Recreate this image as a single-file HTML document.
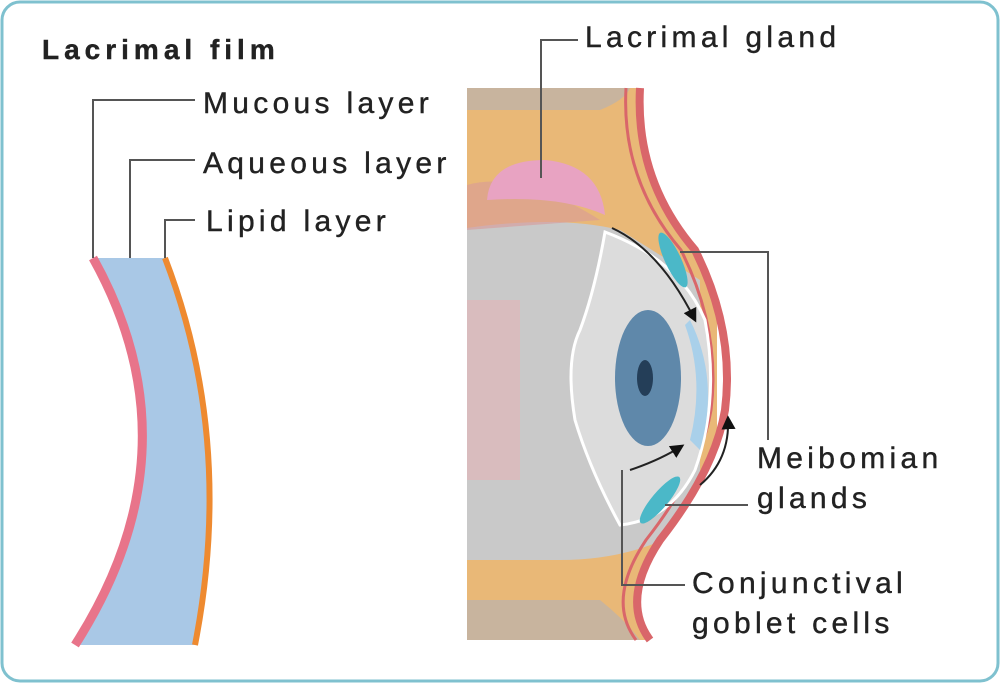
<!DOCTYPE html>
<html><head><style>
html,body{margin:0;padding:0;background:#fff;}
svg{display:block}
text{font-family:"Liberation Sans",sans-serif;font-size:30px;fill:#222;letter-spacing:4.3px;stroke:#222;stroke-width:0.4}
</style></head><body>
<svg width="1000" height="683" viewBox="0 0 1000 683">
<defs><marker id="a" viewBox="0 0 10 10" refX="8" refY="5" markerWidth="7" markerHeight="7" orient="auto"><path d="M0,0L10,5L0,10Z" fill="#111"/></marker></defs>
<rect x="2" y="2" width="996" height="679" rx="18" fill="#fff" stroke="#7fc1cf" stroke-width="3"/>
<path d="M93,258 L165,258 Q235,440 195,645 L75,645 Q200,450 93,258 Z" fill="#a9c8e6"/>
<path d="M93,258 Q200,450 75,645" fill="none" stroke="#e8748a" stroke-width="9"/>
<path d="M165,258 Q235,440 195,645" fill="none" stroke="#ee8a30" stroke-width="6"/>
<g fill="none" stroke="#555" stroke-width="2">
<path d="M93,258 V100 H195"/>
<path d="M130,258 V160 H195"/>
<path d="M165,258 V220 H195"/>
</g>
<text x="42" y="59" font-weight="bold" style="font-size:28px;letter-spacing:5px">Lacrimal film</text>
<text x="203" y="113">Mucous layer</text>
<text x="203" y="173">Aqueous layer</text>
<text x="206" y="231">Lipid layer</text>
<rect x="467" y="88" width="250" height="552" fill="#e9b877"/>
<path d="M467,110 H600 Q625,100 630,88 H467Z" fill="#c8b49e"/>
<path d="M467,640 V600 H600 Q625,620 640,640Z" fill="#c8b49e"/>
<path d="M467,228 Q560,215 620,230 L700,280 L700,520 Q640,560 560,560 L467,560Z" fill="#c9c9c9"/>
<path d="M467,300 H520 V480 H467Z" fill="#e4b4b8" opacity="0.6"/>
<path d="M467,185 Q520,170 600,220 L467,230Z" fill="#d99a9a" opacity="0.6"/>
<path d="M487,200 Q490,160 545,160 Q600,165 605,215 Q560,195 487,200Z" fill="#e8a3c2"/>
<path d="M640,88 Q635,180 695,250 Q735,330 725,410 Q715,470 660,540 Q620,600 650,640 L717,640 L717,88Z" fill="#fff"/>
<path d="M640,88 Q635,180 695,250 Q735,330 725,410 Q715,470 660,540 Q620,600 650,640" fill="none" stroke="#d9666a" stroke-width="8"/>
<path d="M626,88 Q621,180 681,250 Q721,330 711,410 Q701,470 646,540 Q606,600 636,640" fill="none" stroke="#d9666a" stroke-width="3"/>
<path d="M605,232 Q680,260 705,320 Q720,400 695,470 Q670,520 620,525 Q590,470 575,420 Q565,360 580,330 Q595,290 605,232Z" fill="#dcdcdc" stroke="#fff" stroke-width="3"/>
<path d="M690,320 Q720,380 700,450 L690,440 Q705,380 685,325Z" fill="#a9d0ea"/>
<ellipse cx="648" cy="378" rx="33" ry="68" fill="#5f88aa"/>
<ellipse cx="645" cy="378" rx="8" ry="18" fill="#243e58"/>
<ellipse cx="673" cy="260" rx="8" ry="30" fill="#4bb8c8" transform="rotate(-25 673 260)"/>
<ellipse cx="660" cy="500" rx="8" ry="30" fill="#4bb8c8" transform="rotate(40 660 500)"/>
<g fill="none" stroke="#222" stroke-width="2" marker-end="url(#a)">
<path d="M612,228 Q660,250 695,320"/>
<path d="M630,470 Q660,460 682,446"/>
<path d="M700,485 Q730,460 728,418"/>
</g>
<g fill="none" stroke="#555" stroke-width="2">
<path d="M541,178 V40 H578"/>
<path d="M680,252 H768 V440"/>
<path d="M665,505 H748"/>
<path d="M622,470 V585 H685"/>
</g>
<text x="585" y="47">Lacrimal gland</text>
<text x="757" y="468">Meibomian</text>
<text x="757" y="508">glands</text>
<text x="692" y="593">Conjunctival</text>
<text x="692" y="633">goblet cells</text>
</svg>
</body></html>
